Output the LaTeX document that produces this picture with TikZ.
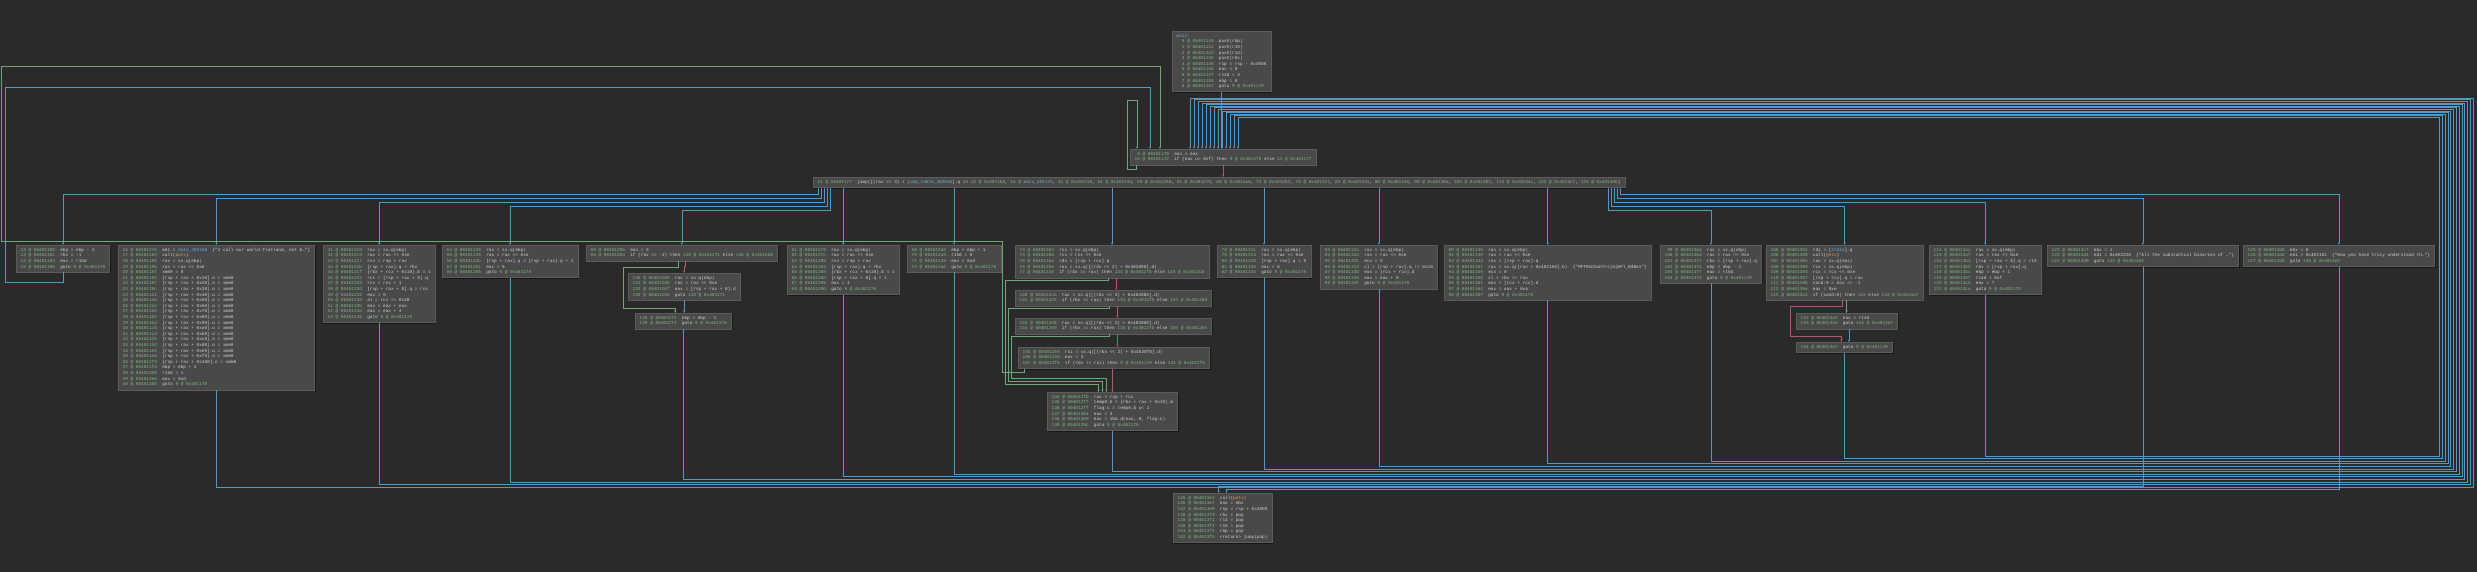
\documentclass[tikz,border=0pt]{standalone}
\usepackage{fontspec}
\setmonofont{Liberation Mono}
\usetikzlibrary{arrows.meta,shadows}

\definecolor{bgc}{RGB}{42,42,42}
\definecolor{blkc}{RGB}{73,73,73}
\definecolor{blkline}{RGB}{92,92,92}
\definecolor{numc}{RGB}{128,186,128}
\definecolor{txtc}{RGB}{210,210,210}
\definecolor{symc}{RGB}{110,176,214}
\definecolor{fnc}{RGB}{222,160,84}
\definecolor{ucol}{RGB}{84,152,196}
\definecolor{tcol}{RGB}{108,166,122}
\definecolor{fcol}{RGB}{176,88,108}

% one disassembly line: number, address, instruction
\newcommand\numpad{000}
\newcommand\ins[3]{{\color{numc}\hphantom{\numpad}\llap{#1} @ #2}\ \ #3}
\newcommand\tg[1]{{\color{numc}#1}}
\newcommand\sy[1]{{\color{symc}#1}}
\newcommand\fn[1]{{\color{fnc}#1}}

\begin{document}
\begin{tikzpicture}[
    x=1pt, y=-1pt,
    blk/.style={
      draw=blkline,
      fill=blkc,
      text=txtc,
      anchor=north west,
      align=left,
      inner xsep=4.5pt,
      inner ysep=3pt,
      line width=0.4pt,
      font=\ttfamily\fontsize{4.4}{5.6}\selectfont,
      drop shadow={shadow xshift=1.2pt, shadow yshift=-1.2pt, fill=black, opacity=0.45}
    },
    ue/.style={draw=ucol, line width=0.5pt, -{Stealth[length=2.5pt,width=2pt]}},
    te/.style={draw=tcol, line width=0.5pt, -{Stealth[length=2.5pt,width=2pt]}},
    fe/.style={draw=fcol, line width=0.5pt, -{Stealth[length=2.5pt,width=2pt]}}
  ]

  \fill[bgc] (0,0) rectangle (2477,572);
  \useasboundingbox (0,0) rectangle (2477,572);

  % entry and dispatcher
  \node[blk] (nA) at (1172,31) {\gdef\numpad{000}\sy{main:}\\
    \ins{0}{00401140}{push(rbp)}\\
    \ins{1}{00401141}{push(r15)}\\
    \ins{2}{00401143}{push(r14)}\\
    \ins{3}{00401145}{push(rbx)}\\
    \ins{4}{00401146}{rsp = rsp - 0x4008}\\
    \ins{5}{0040114d}{eax = 0}\\
    \ins{6}{0040114f}{r14d = 3}\\
    \ins{7}{00401155}{ebp = 0}\\
    \ins{8}{00401157}{goto \tg{9 @ 0x401170}}};

  \node[blk] (nB) at (1130,149) {\gdef\numpad{00}\ins{9}{00401170}{eax = eax}\\
    \ins{10}{00401172}{if (eax u> 0xf) then \tg{9 @ 0x401170} else \tg{11 @ 0x401177}}};

  \node[blk] (nC) at (813,177) {\gdef\numpad{00}\ins{11}{00401177}{jump([(rax << 3) + \sy{jump\_table\_402010}].q => \tg{12 @ 0x401189}, \tg{16 @ \sy{data\_40117e}}, \tg{41 @ 0x401210}, \tg{54 @ 0x401245}, \tg{59 @ 0x40125b}, \tg{61 @ 0x401279}, \tg{69 @ 0x4012a0}, \tg{73 @ 0x4012b3}, \tg{78 @ 0x401311}, \tg{83 @ 0x40132a}, \tg{90 @ 0x401346}, \tg{99 @ 0x40136a}, \tg{105 @ 0x401382}, \tg{114 @ 0x4013ac}, \tg{122 @ 0x4013cf}, \tg{125 @ 0x4013db})}};

  % cases
  \node[blk] (n12) at (16,245) {\gdef\numpad{00}\ins{12}{00401189}{ebp = ebp - 1}\\
    \ins{13}{0040118c}{rbx = -1}\\
    \ins{14}{00401193}{eax = r15d}\\
    \ins{15}{00401196}{goto \tg{9 @ 0x401170}}};

  \node[blk] (n16) at (118,245) {\gdef\numpad{00}\ins{16}{0040117e}{edi = \sy{data\_402168}\ \ \{"I call our world Flatland, not b…"\}}\\
    \ins{17}{00401183}{call(\fn{puts})}\\
    \ins{18}{00401188}{rax = sx.q(ebp)}\\
    \ins{19}{0040118b}{rax = rax << 0xe}\\
    \ins{20}{0040118f}{xmm0 = 0}\\
    \ins{21}{00401192}{[rsp + rax + 0x10].o = xmm0}\\
    \ins{22}{00401197}{[rsp + rax + 0x20].o = xmm0}\\
    \ins{23}{0040119c}{[rsp + rax + 0x30].o = xmm0}\\
    \ins{24}{004011a1}{[rsp + rax + 0x40].o = xmm0}\\
    \ins{25}{004011a6}{[rsp + rax + 0x50].o = xmm0}\\
    \ins{26}{004011ab}{[rsp + rax + 0x60].o = xmm0}\\
    \ins{27}{004011b0}{[rsp + rax + 0x70].o = xmm0}\\
    \ins{28}{004011b5}{[rsp + rax + 0x80].o = xmm0}\\
    \ins{29}{004011bd}{[rsp + rax + 0x90].o = xmm0}\\
    \ins{30}{004011c5}{[rsp + rax + 0xa0].o = xmm0}\\
    \ins{31}{004011cd}{[rsp + rax + 0xb0].o = xmm0}\\
    \ins{32}{004011d5}{[rsp + rax + 0xc0].o = xmm0}\\
    \ins{33}{004011dd}{[rsp + rax + 0xd0].o = xmm0}\\
    \ins{34}{004011e5}{[rsp + rax + 0xe0].o = xmm0}\\
    \ins{35}{004011ed}{[rsp + rax + 0xf0].o = xmm0}\\
    \ins{36}{004011f5}{[rsp + rax + 0x100].o = xmm0}\\
    \ins{37}{004011fd}{ebp = ebp + 1}\\
    \ins{38}{00401200}{r15d = 1}\\
    \ins{39}{00401206}{eax = 0xd}\\
    \ins{40}{0040120b}{goto \tg{9 @ 0x401170}}};

  \node[blk] (n41) at (323,245) {\gdef\numpad{00}\ins{41}{00401210}{rax = sx.q(ebp)}\\
    \ins{42}{00401213}{rax = rax << 0xe}\\
    \ins{43}{00401217}{rcx = rsp + rax}\\
    \ins{44}{0040121b}{[rsp + rax].q = rbx}\\
    \ins{45}{0040121f}{[rbx + rcx + 0x10].b = 1}\\
    \ins{46}{00401224}{rcx = [rsp + rax + 8].q}\\
    \ins{47}{00401229}{rcx = rcx + 1}\\
    \ins{48}{0040122d}{[rsp + rax + 8].q = rcx}\\
    \ins{49}{00401232}{eax = 0}\\
    \ins{50}{00401238}{al = rcx == 0x28}\\
    \ins{51}{0040123b}{eax = eax + eax}\\
    \ins{52}{0040123d}{eax = eax + 4}\\
    \ins{53}{00401240}{goto \tg{9 @ 0x401170}}};

  \node[blk] (n54) at (442,245) {\gdef\numpad{00}\ins{54}{00401245}{rax = sx.q(ebp)}\\
    \ins{55}{00401248}{rax = rax << 0xe}\\
    \ins{56}{0040124c}{[rsp + rax].q = [rsp + rax].q + 1}\\
    \ins{57}{00401251}{eax = 8}\\
    \ins{58}{00401256}{goto \tg{9 @ 0x401170}}};

  \node[blk] (n59) at (586,245) {\gdef\numpad{00}\ins{59}{0040125b}{eax = 3}\\
    \ins{60}{00401264}{if (rbx == -1) then \tg{128 @ 0x401271} else \tg{130 @ 0x401268}}};

  \node[blk] (n130) at (628,273) {\gdef\numpad{000}\ins{130}{00401268}{rax = sx.q(ebp)}\\
    \ins{131}{0040126b}{rax = rax << 0xe}\\
    \ins{132}{0040126f}{eax = [rsp + rax + 8].d}\\
    \ins{133}{0040126d}{goto \tg{128 @ 0x401271}}};

  \node[blk] (n128) at (635,313) {\gdef\numpad{000}\ins{128}{00401271}{ebp = ebp - 1}\\
    \ins{129}{00401274}{goto \tg{9 @ 0x401170}}};

  \node[blk] (n61) at (787,245) {\gdef\numpad{00}\ins{61}{00401279}{rax = sx.q(ebp)}\\
    \ins{62}{0040127c}{rax = rax << 0xe}\\
    \ins{63}{00401280}{rcx = rsp + rax}\\
    \ins{64}{00401284}{[rsp + rax].q = rbx}\\
    \ins{65}{00401288}{[rbx + rcx + 0x10].b = 1}\\
    \ins{66}{0040128d}{[rsp + rax + 8].q = 1}\\
    \ins{67}{00401296}{eax = 4}\\
    \ins{68}{0040129b}{goto \tg{9 @ 0x401170}}};

  \node[blk] (n69) at (907,245) {\gdef\numpad{00}\ins{69}{004012a0}{ebp = ebp + 1}\\
    \ins{70}{004012a3}{r15d = 0}\\
    \ins{71}{004012a9}{eax = 0xd}\\
    \ins{72}{004012ae}{goto \tg{9 @ 0x401170}}};

  \node[blk] (n73) at (1015,245) {\gdef\numpad{00}\ins{73}{004012b3}{rcx = sx.q(ebp)}\\
    \ins{74}{004012b6}{rcx = rcx << 0xe}\\
    \ins{75}{004012ba}{rdx = [rsp + rcx].q}\\
    \ins{76}{004012be}{rax = sx.q([(rdx << 2) + 0x402090].d)}\\
    \ins{77}{004012c6}{if (rbx == rax) then \tg{134 @ 0x4012fb} else \tg{140 @ 0x4012cb}}};

  \node[blk] (n140) at (1015,290) {\gdef\numpad{000}\ins{140}{004012cb}{rax = sx.q([(rdx << 2) + 0x4020b0].d)}\\
    \ins{141}{004012d3}{if (rbx == rax) then \tg{134 @ 0x4012fb} else \tg{153 @ 0x4012d8}}};

  \node[blk] (n153) at (1015,318) {\gdef\numpad{000}\ins{153}{004012d8}{rax = sx.q([(rdx << 2) + 0x4020d0].d)}\\
    \ins{154}{004012e0}{if (rbx == rax) then \tg{134 @ 0x4012fb} else \tg{155 @ 0x4012e5}}};

  \node[blk] (n155) at (1018,347) {\gdef\numpad{000}\ins{155}{004012e5}{rsi = sx.q([(rbx << 2) + 0x4020f0].d)}\\
    \ins{156}{004012ed}{eax = 3}\\
    \ins{157}{004012f5}{if (rdx != rsi) then \tg{9 @ 0x401170} else \tg{134 @ 0x4012fb}}};

  \node[blk] (n134) at (1047,392) {\gdef\numpad{000}\ins{134}{004012fb}{rax = rsp + rcx}\\
    \ins{135}{004012ff}{temp0.b = [rbx + rax + 0x10].b}\\
    \ins{136}{004012ff}{flag:c = temp0.b u< 1}\\
    \ins{137}{00401304}{eax = 3}\\
    \ins{138}{00401309}{eax = sbb.d(eax, 0, flag:c)}\\
    \ins{139}{0040130c}{goto \tg{9 @ 0x401170}}};

  \node[blk] (n78) at (1217,245) {\gdef\numpad{00}\ins{78}{00401311}{rax = sx.q(ebp)}\\
    \ins{79}{00401314}{rax = rax << 0xe}\\
    \ins{80}{00401318}{[rsp + rax].q = 0}\\
    \ins{81}{00401320}{eax = 0}\\
    \ins{82}{00401325}{goto \tg{9 @ 0x401170}}};

  \node[blk] (n83) at (1320,245) {\gdef\numpad{00}\ins{83}{0040132a}{rax = sx.q(ebp)}\\
    \ins{84}{0040132d}{rax = rax << 0xe}\\
    \ins{85}{00401331}{ecx = 0}\\
    \ins{86}{00401333}{cl = [rsp + rax].q != 0x18}\\
    \ins{87}{0040133b}{eax = [rcx + rcx].d}\\
    \ins{88}{0040133e}{eax = eax + 9}\\
    \ins{89}{00401341}{goto \tg{9 @ 0x401170}}};

  \node[blk] (n90) at (1444,245) {\gdef\numpad{00}\ins{90}{00401346}{rax = sx.q(ebp)}\\
    \ins{91}{00401349}{rax = rax << 0xe}\\
    \ins{92}{0040134d}{rax = [rsp + rax].q}\\
    \ins{93}{00401351}{rax = sx.q([rax + 0x402150].b)\ \ \{"MFTRsDIonTrs\}4(mFl\_BdBas"\}}\\
    \ins{94}{00401359}{ecx = 0}\\
    \ins{95}{0040135e}{cl = rbx == rax}\\
    \ins{96}{00401361}{eax = [rcx + rcx].d}\\
    \ins{97}{00401364}{eax = eax + 0xa}\\
    \ins{98}{00401367}{goto \tg{9 @ 0x401170}}};

  \node[blk] (n99) at (1660,245) {\gdef\numpad{000}\ins{99}{0040136a}{rax = sx.q(ebp)}\\
    \ins{100}{0040136d}{rax = rax << 0xe}\\
    \ins{101}{00401371}{rbx = [rsp + rax].q}\\
    \ins{102}{00401375}{ebp = ebp - 1}\\
    \ins{103}{00401377}{eax = r15d}\\
    \ins{104}{0040137d}{goto \tg{9 @ 0x401170}}};

  \node[blk] (n105) at (1766,245) {\gdef\numpad{000}\ins{105}{00401382}{rdi = [\sy{stdin}].q}\\
    \ins{106}{00401389}{call(\fn{getc})}\\
    \ins{107}{0040138e}{rax = sx.q(eax)}\\
    \ins{108}{00401390}{rcx = sx.q(ebp)}\\
    \ins{109}{00401393}{rcx = rcx << 0xe}\\
    \ins{110}{00401397}{[rsp + rcx].q = rax}\\
    \ins{111}{0040139b}{cond:0 = eax == -1}\\
    \ins{112}{0040139e}{eax = 0xe}\\
    \ins{113}{004013a3}{if (cond:0) then \tg{142} else \tg{144 @ 0x4013a7}}};

  \node[blk] (n142) at (1796,313) {\gdef\numpad{000}\ins{142}{004013a5}{eax = r14d}\\
    \ins{143}{004013a5}{goto \tg{144 @ 0x4013a7}}};

  \node[blk] (n144) at (1796,342) {\gdef\numpad{000}\ins{144}{004013a7}{goto \tg{9 @ 0x401170}}};

  \node[blk] (n114) at (1929,245) {\gdef\numpad{000}\ins{114}{004013ac}{rax = sx.q(ebp)}\\
    \ins{115}{004013af}{rax = rax << 0xe}\\
    \ins{116}{004013b3}{[rsp + rax + 8].q = r15}\\
    \ins{117}{004013b8}{rbx = [rsp + rax].q}\\
    \ins{118}{004013bc}{ebp = ebp + 1}\\
    \ins{119}{004013bf}{r14d = 0xf}\\
    \ins{120}{004013c5}{eax = 7}\\
    \ins{121}{004013ca}{goto \tg{9 @ 0x401170}}};

  \node[blk] (n122) at (2047,245) {\gdef\numpad{000}\ins{122}{004013cf}{ebx = 1}\\
    \ins{123}{004013d4}{edi = 0x402238\ \ \{"All the substantial binaries of …"\}}\\
    \ins{124}{004013d9}{goto \tg{145 @ 0x4013e2}}};

  \node[blk] (n125) at (2243,245) {\gdef\numpad{000}\ins{125}{004013db}{ebx = 0}\\
    \ins{126}{004013dd}{edi = 0x402181\ \ \{"Now you have truly understood th…"\}}\\
    \ins{127}{004013dd}{goto \tg{145 @ 0x4013e2}}};

  % exit
  \node[blk] (n145) at (1173,493) {\gdef\numpad{000}\ins{145}{004013e2}{call(\fn{puts})}\\
    \ins{146}{004013e7}{eax = ebx}\\
    \ins{147}{004013e9}{rsp = rsp + 0x4008}\\
    \ins{148}{004013f0}{rbx = pop}\\
    \ins{149}{004013f1}{r14 = pop}\\
    \ins{150}{004013f3}{r15 = pop}\\
    \ins{151}{004013f5}{rbp = pop}\\
    \ins{152}{004013f6}{<return> jump(pop)}};

  % entry, loop head, dispatch
  \draw[ue] (nA.south) -- (nA.south |- nB.north);
  \draw[fe] (nB.south) -- (nB.south |- nC.north);
  \draw[te] ([xshift=6pt]nB.south west) -- ++(0,4) -| (1127,100) -| ([xshift=7pt]nB.north west);

  % jump table
  \foreach \t [count=\k from 0] in {n12,n16,n41,n54,n59}{
    \pgfmathsetmacro\xs{5+3*\k}
    \pgfmathsetmacro\dy{7+4*\k}
    \draw[ue] ([xshift=\xs pt]nC.south west) -- ++(0,\dy) -| (\t.north);
  }
  \foreach \t [count=\k from 0] in {n125,n122,n114,n105,n99}{
    \pgfmathsetmacro\xs{5+3*\k}
    \pgfmathsetmacro\dy{7+4*\k}
    \draw[ue] ([xshift=-\xs pt]nC.south east) -- ++(0,\dy) -| (\t.north);
  }
  \foreach \t in {n61,n69,n73,n78,n83,n90}{
    \draw[ue] (nC.south -| \t.north) -- (\t.north);
  }

  % case 59
  \draw[te] ([xshift=-4pt]n59.south) -- ++(0,6) -| (623,308) -| ([xshift=-8pt]n128.north);
  \draw[fe] ([xshift=3pt]n59.south) -- ++(0,5) -| (n130.north);
  \draw[ue] (n130.south) -- (n130.south |- n128.north);

  % case 73 chain
  \draw[fe] ([xshift=4pt]n73.south) -- ([xshift=4pt]n73.south |- n140.north);
  \draw[fe] ([xshift=4pt]n140.south) -- ([xshift=4pt]n140.south |- n153.north);
  \draw[fe] ([xshift=4pt]n153.south) -- ([xshift=4pt]n153.south |- n155.north);
  \draw[te] ([xshift=-4pt]n73.south) -- ++(0,2) -| (1005,384) -| ([xshift=-14pt]n134.north);
  \draw[te] ([xshift=-4pt]n140.south) -- ++(0,2) -| (1008,381) -| ([xshift=-10pt]n134.north);
  \draw[te] ([xshift=-4pt]n153.south) -- ++(0,2) -| (1011,378) -| ([xshift=-6pt]n134.north);
  \draw[fe] (n155.south -| n134.north) -- (n134.north);

  % case 105
  \draw[te] ([xshift=2pt]n105.south) -- ([xshift=2pt]n105.south |- n142.north);
  \draw[fe] ([xshift=-2pt]n105.south) -- ++(0,6) -| (1790,336) -| ([xshift=-3pt]n144.north);
  \draw[ue] ([xshift=2pt]n142.south) -- ([xshift=2pt]n142.south |- n144.north);

  % to exit
  \draw[ue] (n122.south) |- ([xshift=-4pt,yshift=7pt]n145.north) -- ([xshift=-4pt]n145.north);
  \draw[ue] (n125.south) |- ([xshift=4pt,yshift=4pt]n145.north) -- ([xshift=4pt]n145.north);

  % back to the loop head, left side
  \draw[ue] (n12.south) |- (5,282) |- (1150,87) -- ([xshift=20pt]nB.north west);
  \draw[te] ([xshift=6pt]n155.south west) -- ++(0,4) -| (1002,241) -| (1,66) -| ([xshift=30pt]nB.north west);

  % back to the loop head, right side
  \foreach \s [count=\k from 0] in {n16,n41,n54,n128,n61,n69,n134,n78,n83,n90,n99,n144,n114}{
    \pgfmathsetmacro\yb{487-2.6*\k}
    \pgfmathsetmacro\xc{2473-2.8*\k}
    \pgfmathsetmacro\yt{98+1.6*\k}
    \pgfmathsetmacro\xe{1190+4*\k}
    \pgfmathsetmacro\xs{60+4*\k}
    \draw[ue] (\s.south) |- (\xc,\yb) |- (\xe,\yt) -- ([xshift=\xs pt]nB.north west);
  }

\end{tikzpicture}
\end{document}
